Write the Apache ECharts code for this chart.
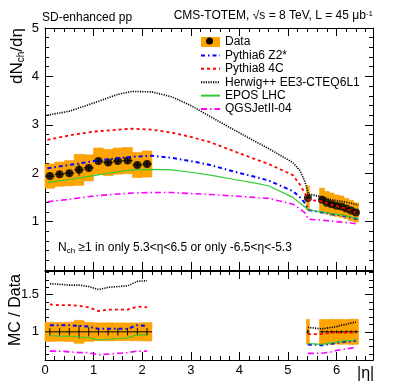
<!DOCTYPE html>
<html style="height: 100%">
<head>
	<meta charset="utf-8">
</head>
<body style="height: 100%; margin: 0; background: #fff">
<div id="container" style="width: 415px; height: 390px"></div>
<script type="text/javascript" src="https://cdn.jsdelivr.net/npm/echarts@6/dist/echarts.min.js"></script>
<script type="text/javascript">
    // data, central region (|eta| < 2.2)
    var etaC = [0.1, 0.3, 0.5, 0.7, 0.9, 1.1, 1.3, 1.5, 1.7, 1.9, 2.1];
    var halfC = [0.1, 0.1, 0.1, 0.1, 0.1, 0.1, 0.1, 0.1, 0.1, 0.1, 0.1];
    var dataC = [1.94, 1.98, 2.00, 2.07, 2.11, 2.25, 2.22, 2.25, 2.26, 2.17, 2.19];
    var statC = [0.07, 0.07, 0.07, 0.12, 0.08, 0.07, 0.07, 0.07, 0.07, 0.07, 0.07];
    var sysC  = [0.25, 0.25, 0.26, 0.32, 0.27, 0.27, 0.27, 0.27, 0.27, 0.26, 0.27];
    var ratioStatC = [0.05, 0.05, 0.05, 0.09, 0.06, 0.05, 0.05, 0.05, 0.05, 0.05, 0.05];

    // data, forward region (T2)
    var etaF = [5.41, 5.7, 5.8, 5.9, 6.0, 6.1, 6.2, 6.3, 6.4];
    var halfF = [0.03, 0.05, 0.05, 0.05, 0.05, 0.05, 0.05, 0.05, 0.05];
    var dataF = [1.49, 1.45, 1.39, 1.36, 1.33, 1.31, 1.27, 1.23, 1.19];
    var statF = [0.03, 0.02, 0.02, 0.02, 0.02, 0.02, 0.02, 0.02, 0.02];
    var sysF  = [0.25, 0.24, 0.23, 0.23, 0.22, 0.22, 0.21, 0.21, 0.20];
    var ratioStatF = [0.03, 0.02, 0.02, 0.02, 0.02, 0.02, 0.02, 0.02, 0.02];

    // MC predictions (upper panel)
    var mcEta   = [0.05, 0.5, 1.0, 1.5, 1.8, 2.2, 2.6, 3.0, 3.4, 3.9, 4.3, 4.6, 5.1, 5.25, 5.35, 5.42, 5.7, 5.9, 6.1, 6.3, 6.45];
    var pythia6 = [2.10, 2.17, 2.25, 2.31, 2.34, 2.36, 2.32, 2.25, 2.17, 2.03, 1.93, 1.85, 1.63, 1.50, 1.38, 1.24, 1.19, 1.15, 1.13, 1.08, 1.05];
    var pythia8 = [2.69, 2.78, 2.86, 2.90, 2.92, 2.90, 2.84, 2.75, 2.64, 2.45, 2.30, 2.19, 1.96, 1.76, 1.58, 1.45, 1.42, 1.35, 1.30, 1.22, 1.17];
    var herwig  = [3.20, 3.28, 3.45, 3.63, 3.69, 3.68, 3.58, 3.40, 3.17, 2.89, 2.67, 2.51, 2.22, 2.05, 1.82, 1.57, 1.51, 1.45, 1.42, 1.38, 1.34];
    var epos    = [1.81, 1.87, 1.95, 2.03, 2.07, 2.08, 2.07, 2.02, 1.96, 1.87, 1.80, 1.74, 1.50, 1.38, 1.30, 1.24, 1.20, 1.16, 1.14, 1.09, 1.06];
    var qgsjet  = [1.41, 1.46, 1.53, 1.57, 1.59, 1.60, 1.60, 1.58, 1.56, 1.53, 1.50, 1.48, 1.36, 1.26, 1.18, 1.05, 1.03, 1.01, 0.99, 0.97, 0.95];

    // MC / data ratios (lower panel)
    var pythia6RC = [1.09, 1.09, 1.09, 1.08, 1.07, 1.04, 1.04, 1.04, 1.04, 1.09, 1.08];
    var pythia8RC = [1.37, 1.36, 1.36, 1.35, 1.33, 1.28, 1.30, 1.30, 1.30, 1.34, 1.33];
    var herwigRC  = [1.65, 1.64, 1.63, 1.63, 1.61, 1.57, 1.60, 1.61, 1.62, 1.68, 1.69];
    var eposRC    = [0.95, 0.94, 0.94, 0.93, 0.92, 0.89, 0.90, 0.91, 0.92, 0.96, 0.96];
    var qgsjetRC  = [0.74, 0.74, 0.73, 0.72, 0.72, 0.69, 0.70, 0.71, 0.72, 0.74, 0.74];
    var pythia6RF = [0.83, 0.82, 0.83, 0.84, 0.85, 0.86, 0.87, 0.87, 0.88];
    var pythia8RF = [0.97, 0.97, 0.98, 0.99, 0.99, 0.99, 0.99, 0.99, 0.99];
    var herwigRF  = [1.06, 1.04, 1.05, 1.06, 1.07, 1.09, 1.10, 1.12, 1.13];
    var eposRF    = [0.84, 0.83, 0.84, 0.85, 0.86, 0.87, 0.88, 0.88, 0.89];
    var qgsjetRF  = [0.71, 0.71, 0.72, 0.73, 0.75, 0.76, 0.77, 0.78, 0.79];

    var ratioMajor = [1, 1.5];
    var ratioMinor = [0.7, 0.8, 0.9, 1.0, 1.1, 1.2, 1.3, 1.4, 1.5, 1.6, 1.7, 1.8];

    var FONT = 'Liberation Sans';
    var ORANGE = '#ffa500';

    var mcStyles = [
        {name: 'Pythia6 Z2*', color: '#0000ff', width: 2, type: [4, 3, 1.5, 3], top: pythia6, rc: pythia6RC, rf: pythia6RF},
        {name: 'Pythia8 4C', color: '#ff0000', width: 1.8, type: [3, 3], top: pythia8, rc: pythia8RC, rf: pythia8RF},
        {name: 'Herwig++ EE3-CTEQ6L1', color: '#000000', width: 1.6, type: [1.2, 1.2], top: herwig, rc: herwigRC, rf: herwigRF},
        {name: 'EPOS LHC', color: '#33cc33', width: 1.2, type: 'solid', top: epos, rc: eposRC, rf: eposRF},
        {name: 'QGSJetII-04', color: '#ff00ff', width: 1.6, type: [6, 3, 1.5, 3], top: qgsjet, rc: qgsjetRC, rf: qgsjetRF}
    ];

    function zip(xs, ys) {
        return xs.map(function (x, i) { return [x, ys[i]]; });
    }
    function boxes(eta, val, half, err) {
        return eta.map(function (e, i) { return [e, val[i], half[i], err[i]]; });
    }

    function renderBox(params, api) {
        var a = api.coord([api.value(0) - api.value(2), api.value(1) + api.value(3)]);
        var b = api.coord([api.value(0) + api.value(2), api.value(1) - api.value(3)]);
        return {
            type: 'rect',
            shape: {x: a[0], y: a[1], width: b[0] - a[0], height: b[1] - a[1]},
            style: {fill: ORANGE, stroke: '#f29a00', lineWidth: 0.6}
        };
    }
    function renderErr(params, api) {
        var x = api.value(0), y = api.value(1), h = api.value(2), e = api.value(3);
        var l = api.coord([x - h, y]), r = api.coord([x + h, y]);
        var t = api.coord([x, y + e]), b = api.coord([x, y - e]);
        return {
            type: 'group',
            children: [
                {type: 'line', shape: {x1: l[0], y1: l[1], x2: r[0], y2: r[1]}, style: {stroke: '#000', lineWidth: 1}},
                {type: 'line', shape: {x1: t[0], y1: t[1], x2: b[0], y2: b[1]}, style: {stroke: '#000', lineWidth: 1}}
            ]
        };
    }

    function xAx(grid, pos, labels) {
        return {
            type: 'value', gridIndex: grid, position: pos, min: 0, max: 6.75, interval: 1,
            axisLine: {show: true, onZero: false, lineStyle: {color: '#000', width: 1}},
            axisTick: {show: true, inside: true, length: 8, lineStyle: {color: '#000'}},
            minorTick: {show: true, splitNumber: 5, length: 4, lineStyle: {color: '#000'}},
            axisLabel: {
                show: labels, color: '#000', fontSize: 13, fontFamily: FONT, margin: 4,
                formatter: function (v) { return v % 1 === 0 ? String(v) : ''; }
            },
            splitLine: {show: false}
        };
    }
    function yTop(pos, labels) {
        return {
            type: 'value', gridIndex: 0, position: pos, min: 0, max: 5, interval: 1,
            axisLine: {show: true, onZero: false, lineStyle: {color: '#000', width: 1}},
            axisTick: {show: true, inside: true, length: 8, lineStyle: {color: '#000'}},
            minorTick: {show: true, splitNumber: 5, length: 4, lineStyle: {color: '#000'}},
            axisLabel: {
                show: labels, color: '#000', fontSize: 13, fontFamily: FONT, margin: 6,
                formatter: function (v) { return v === 0 ? '' : String(v); }
            },
            splitLine: {show: false}
        };
    }
    function yRatio(pos, ticks, len, labels) {
        return {
            type: 'value', gridIndex: 1, position: pos, min: 0.62, max: 1.82,
            axisLine: {show: true, onZero: false, lineStyle: {color: '#000', width: 1}},
            axisTick: {show: true, inside: true, length: len, customValues: ticks, lineStyle: {color: '#000'}},
            axisLabel: {show: labels, customValues: ratioMajor, color: '#000', fontSize: 13, fontFamily: FONT, margin: 6},
            splitLine: {show: false}
        };
    }

    var series = [];
    // upper panel, data
    series.push({name: 'Data', type: 'custom', xAxisIndex: 0, yAxisIndex: 0, renderItem: renderBox,
        itemStyle: {color: ORANGE}, encode: {x: 0, y: 1}, data: boxes(etaC, dataC, halfC, sysC), z: 1});
    series.push({name: 'Data', type: 'custom', xAxisIndex: 0, yAxisIndex: 0, renderItem: renderBox,
        itemStyle: {color: ORANGE}, encode: {x: 0, y: 1}, data: boxes(etaF, dataF, halfF, sysF), z: 1});
    series.push({name: 'DataErr', type: 'custom', xAxisIndex: 0, yAxisIndex: 0, renderItem: renderErr,
        encode: {x: 0, y: 1}, data: boxes(etaC.concat(etaF), dataC.concat(dataF), halfC.concat(halfF), statC.concat(statF)), z: 2});
    series.push({name: 'DataPts', type: 'scatter', xAxisIndex: 0, yAxisIndex: 0, symbol: 'circle', symbolSize: 8,
        itemStyle: {color: '#000'}, data: zip(etaC.concat(etaF), dataC.concat(dataF)), z: 3});

    // lower panel, data band
    series.push({name: 'RatioBand', type: 'custom', xAxisIndex: 2, yAxisIndex: 2, renderItem: renderBox, encode: {x: 0, y: 1},
        data: etaC.map(function (e, i) { return [e, 1, halfC[i], sysC[i] / dataC[i]]; })
            .concat(etaF.map(function (e, i) { return [e, 1, halfF[i], sysF[i] / dataF[i]]; })), z: 1});
    series.push({name: 'RatioErr', type: 'custom', xAxisIndex: 2, yAxisIndex: 2, renderItem: renderErr, encode: {x: 0, y: 1},
        data: etaC.map(function (e, i) { return [e, 1, halfC[i], ratioStatC[i]]; })
            .concat(etaF.map(function (e, i) { return [e, 1, halfF[i], ratioStatF[i]]; })), z: 2});

    mcStyles.forEach(function (m) {
        var ls = {color: m.color, width: m.width, type: m.type};
        series.push({name: m.name, type: 'line', xAxisIndex: 0, yAxisIndex: 0, symbol: 'none', showSymbol: false,
            lineStyle: ls, itemStyle: {color: m.color}, data: zip(mcEta, m.top), z: 4, animation: false});
        series.push({name: m.name, type: 'line', xAxisIndex: 2, yAxisIndex: 2, symbol: 'none', showSymbol: false,
            lineStyle: ls, itemStyle: {color: m.color}, data: zip(etaC, m.rc), z: 4, animation: false});
        series.push({name: m.name, type: 'line', xAxisIndex: 2, yAxisIndex: 2, symbol: 'none', showSymbol: false,
            lineStyle: ls, itemStyle: {color: m.color}, data: zip(etaF, m.rf), z: 4, animation: false});
    });

    var legendData = [{name: 'Data', icon: 'rect'}].concat(mcStyles.map(function (m) {
        return {name: m.name, itemStyle: {opacity: 0}};
    }));

    var myChart = echarts.init(document.getElementById('container'), null, {renderer: 'canvas'});
    var option = {
        backgroundColor: '#ffffff',
        animation: false,
        grid: [
            {left: 45, top: 28, width: 328, height: 242},
            {left: 45, top: 271, width: 328, height: 89}
        ],
        xAxis: [xAx(0, 'bottom', false), xAx(0, 'top', false), xAx(1, 'bottom', true), xAx(1, 'top', false)],
        yAxis: [
            yTop('left', true), yTop('right', false),
            yRatio('left', ratioMajor, 8, true), yRatio('left', ratioMinor, 4, false),
            yRatio('right', ratioMajor, 8, false), yRatio('right', ratioMinor, 4, false)
        ],
        legend: {
            orient: 'vertical', left: 200, top: 36, padding: 0, itemWidth: 19, itemHeight: 10, itemGap: 1.4,
            textStyle: {fontSize: 12, fontFamily: FONT, color: '#000', lineHeight: 10},
            data: legendData,
            selectedMode: false
        },
        graphic: [
            {type: 'circle', shape: {cx: 209.5, cy: 41, r: 3.5}, style: {fill: '#000'}, z: 100},
            {type: 'text', left: 42, top: 12, style: {text: 'SD-enhanced pp', font: '12px ' + FONT, fill: '#000'}},
            {type: 'text', right: 42, top: 10, style: {
                text: '{a|CMS-TOTEM, √s = 8 TeV, L = 45 μb}{s|-1}',
                rich: {a: {font: '12px ' + FONT, fill: '#000', verticalAlign: 'bottom'}, s: {font: '8px ' + FONT, fill: '#000', verticalAlign: 'top'}}
            }},
            {type: 'text', x: 58, y: 241, style: {
                text: '{a|N}{b|ch}{a| ≥1 in only 5.3<η<6.5 or only -6.5<η<-5.3}',
                rich: {a: {font: '12px ' + FONT, fill: '#000'}, b: {font: '8px ' + FONT, fill: '#000', padding: [6, 0, 0, 0]}}
            }},
            {type: 'text', x: 17, y: 56, rotation: Math.PI / 2, style: {
                text: '{a|dN}{b|ch}{a|/dη}', align: 'center', verticalAlign: 'middle',
                rich: {a: {font: '17px ' + FONT, fill: '#000'}, b: {font: '10px ' + FONT, fill: '#000', padding: [8, 0, 0, 0]}}
            }},
            {type: 'text', x: 16, y: 310, rotation: Math.PI / 2, style: {
                text: 'MC / Data', align: 'center', verticalAlign: 'middle', font: '16px ' + FONT, fill: '#000'
            }},
            {type: 'text', x: 357, y: 366, style: {text: '|η|', font: '16px ' + FONT, fill: '#000'}}
        ],
        series: series
    };
    myChart.setOption(option, true);
</script>
</body>
</html>
